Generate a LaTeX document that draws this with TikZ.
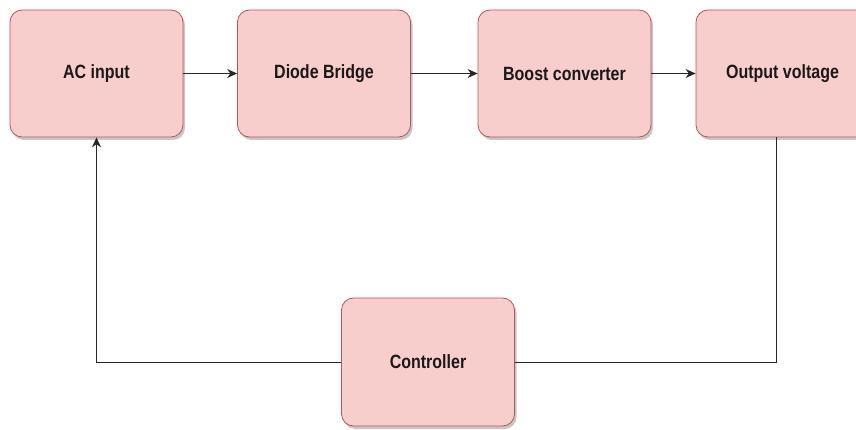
\documentclass[tikz,border=0pt]{standalone}
\usepackage{fontspec}
\setmainfont{Liberation Sans}
\usetikzlibrary{positioning,arrows.meta,shadows}

\definecolor{boxfill}{HTML}{F8CECC}
\definecolor{boxline}{HTML}{B85450}

\newcommand{\lbl}[1]{\scalebox{1}[1.2]{#1}}

\tikzset{
  block/.style={draw=boxline, fill=boxfill, line width=0.8pt, rounded corners=12pt,
    minimum width=173pt, minimum height=127pt, text=black!90,
    font=\bfseries\fontsize{16}{19}\selectfont,
    drop shadow={shadow xshift=2pt, shadow yshift=-3pt, fill=black, opacity=0.22}},
  wire/.style={line width=1pt, draw=black!85},
  link/.style={wire, -{Stealth[length=10pt,width=9pt]}}
}

\begin{document}
\begin{tikzpicture}[x=1pt,y=1pt]
\useasboundingbox (0,0) rectangle (856,429);
\clip (0,0) rectangle (856,429);
\def\xa{96.5};
\def\xb{324};
\def\xc{564.5};
\def\xd{782.5};
\def\xe{428};

\def\ya{355.5};
\def\yb{67};

\node[block](ac) at (\xa, \ya) {\lbl{AC input}};
\node[block](diode) at (\xb, \ya) {\lbl{Diode Bridge}};
\node[block](boost) at (\xc, \ya) {\lbl{Boost converter}};
\node[block](out) at (\xd, \ya) {\lbl{Output voltage}};
\node[block, minimum height=128pt](ctrl) at (\xe, \yb) {\lbl{Controller}};

\draw[link] (ac) -- (diode);
\draw[link] (diode) -- (boost);
\draw[link] (boost) -- (out);

\coordinate(tap) at (776, \yb);
\draw[wire] (tap |- out.south) -- (tap) -- (ctrl.east);
\draw[link] (ctrl.west) -| (ac.south);
\end{tikzpicture}
\end{document}
